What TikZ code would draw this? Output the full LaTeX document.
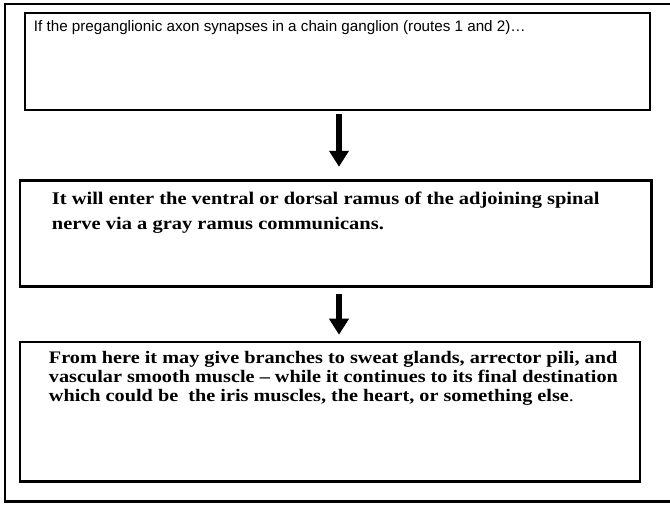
\documentclass[tikz,border=0pt]{standalone}
\usepackage{fontspec}
\setmainfont{Liberation Serif}
\newfontfamily\arialfont{Liberation Sans}
\newfontfamily\widefont[FakeStretch=1.15]{Liberation Serif}
\usepackage{tikz}
\usetikzlibrary{arrows.meta,positioning}

\begin{document}
\begin{tikzpicture}[x=1pt, y=-1pt,
  stagebox/.style={draw, line width=2.5pt, inner sep=0pt},
  stagetext/.style={anchor=north west, inner sep=0pt, align=left},
  downarrow/.style={line width=6pt, -{Triangle[length=16pt,width=19pt]}}]

  \useasboundingbox (0,0) rectangle (670,504);
  % outer frame, open towards the right
  \draw[line width=2.5pt] (675,4) -| (5,501.5) -- (675,501.5);

  % the three stages
  \node[stagebox, minimum width=625pt, minimum height=97pt] (first) at (337.5,61.5) {};
  \node[stagebox, minimum width=631.7pt, minimum height=106pt] (second) at (335.8,233.7) {};
  \node[stagebox, minimum width=620pt, minimum height=139.7pt] (third) at (330,411.8) {};

  \node[stagetext, font=\arialfont\fontsize{15.2}{18}\selectfont] (firsttext)
    at ([shift={(10,9)}]first.north west)
    {If the preganglionic axon synapses in a chain ganglion (routes 1 and 2)…};
  \node[stagetext, font=\widefont\bfseries\fontsize{17.8}{25}\selectfont] (secondtext)
    at ([shift={(33,12)}]second.north west)
    {It will enter the ventral or dorsal ramus of the adjoining spinal\\
     nerve via a gray ramus communicans.};
  \node[stagetext, font=\widefont\bfseries\fontsize{17.6}{19}\selectfont] (thirdtext)
    at ([shift={(30,10.8)}]third.north west)
    {From here it may give branches to sweat glands, arrector pili, and\\
     vascular smooth muscle – while it continues to its final destination\\
     which could be\ \ the iris muscles, the heart, or something else\textmd{.}};

  % arrows between the stages
  \coordinate (arrowx) at (339,0);
  \path[downarrow] (first.south -| arrowx) edge[shorten <=3pt, shorten >=12.7pt] (second.north -| arrowx);
  \path[downarrow] (second.south -| arrowx) edge[shorten <=6pt, shorten >=6pt] (third.north -| arrowx);
\end{tikzpicture}
\end{document}
